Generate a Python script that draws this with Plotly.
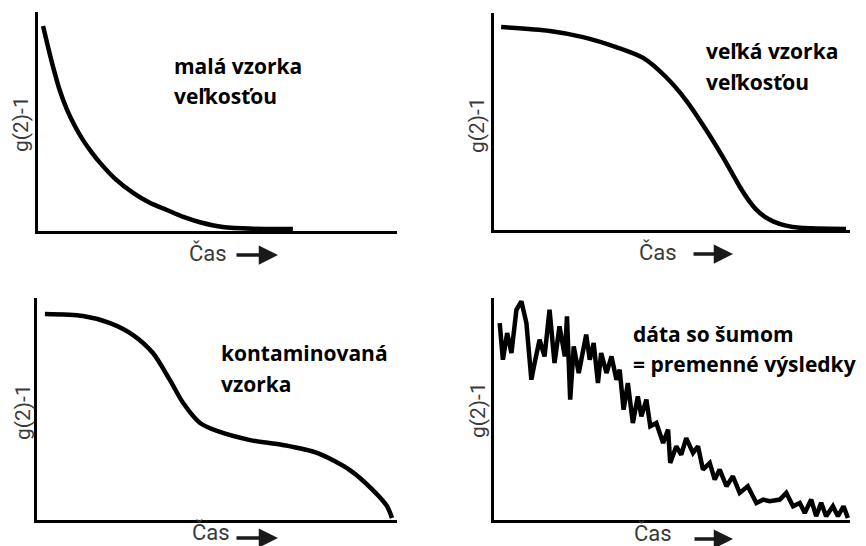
import plotly.graph_objects as go

# ---- data (normalised time, g(2)-1) ----
small_t = [0.014, 0.028, 0.042, 0.060, 0.081, 0.103, 0.125, 0.150, 0.173, 0.215, 0.265, 0.310, 0.359, 0.405, 0.451, 0.515, 0.60, 0.710]
small_g = [0.936, 0.840, 0.749, 0.645, 0.553, 0.478, 0.416, 0.358, 0.311, 0.238, 0.174, 0.130, 0.096, 0.064, 0.040, 0.018, 0.010, 0.009]

large_t = [0.020, 0.157, 0.250, 0.343, 0.419, 0.483, 0.539, 0.596, 0.643, 0.691, 0.714, 0.736, 0.760, 0.784, 0.820, 0.860, 0.989]
large_g = [0.935, 0.917, 0.889, 0.843, 0.793, 0.705, 0.599, 0.461, 0.336, 0.198, 0.140, 0.095, 0.062, 0.040, 0.020, 0.010, 0.005]

cont_t = [0.022, 0.128, 0.203, 0.267, 0.322, 0.369, 0.406, 0.453, 0.500, 0.592, 0.683, 0.778, 0.869, 0.933, 0.972, 0.986]
cont_g = [0.928, 0.919, 0.887, 0.833, 0.752, 0.631, 0.527, 0.437, 0.401, 0.360, 0.338, 0.302, 0.225, 0.135, 0.063, 0.009]

noisy_t = [0.016, 0.025, 0.037, 0.049, 0.063, 0.077, 0.091, 0.105, 0.114, 0.128,
           0.142, 0.156, 0.170, 0.184, 0.199, 0.205, 0.214, 0.224, 0.238, 0.259,
           0.269, 0.280, 0.292, 0.301, 0.316, 0.330, 0.344, 0.353, 0.364, 0.376,
           0.390, 0.404, 0.414, 0.428, 0.439, 0.456, 0.475, 0.489, 0.495, 0.512,
           0.526, 0.540, 0.559, 0.573, 0.587, 0.606, 0.620, 0.634, 0.653, 0.671,
           0.690, 0.713, 0.737, 0.756, 0.774, 0.803, 0.821, 0.840, 0.859, 0.873,
           0.891, 0.905, 0.919, 0.933, 0.952, 0.966, 0.982, 0.994]
noisy_g = [0.887, 0.722, 0.842, 0.752, 0.947, 0.985, 0.887, 0.632, 0.707, 0.812,
           0.737, 0.947, 0.707, 0.872, 0.737, 0.917, 0.542, 0.782, 0.662, 0.835,
           0.722, 0.797, 0.617, 0.752, 0.662, 0.737, 0.632, 0.677, 0.497, 0.617,
           0.437, 0.557, 0.467, 0.542, 0.422, 0.437, 0.347, 0.407, 0.257, 0.332,
           0.294, 0.369, 0.302, 0.332, 0.227, 0.257, 0.182, 0.227, 0.152, 0.197,
           0.122, 0.152, 0.077, 0.092, 0.085, 0.092, 0.122, 0.062, 0.077, 0.032,
           0.092, 0.017, 0.077, 0.017, 0.062, 0.017, 0.062, 0.009]

panel_labels = [["malá vzorka", "veľkosťou"],
                ["veľká vzorka", "veľkosťou"],
                ["kontaminovaná", "vzorka"],
                ["dáta so šumom", "= premenné výsledky"]]
y_label = "g(2)-1"
x_label = "Čas"

W, H = 866, 546
def px(x):
    return x / W
def py(y):
    return 1 - y / H

fig = go.Figure()
series = [(small_t, small_g, "spline"), (large_t, large_g, "spline"),
          (cont_t, cont_g, "spline"), (noisy_t, noisy_g, "linear")]
for i, (t, g, shape) in enumerate(series):
    suffix = "" if i == 0 else str(i + 1)
    line = dict(color="black", width=4.5, shape=shape)
    if shape == "spline":
        line["smoothing"] = 0.8
    fig.add_trace(go.Scatter(x=t, y=g, mode="lines", xaxis="x" + suffix, yaxis="y" + suffix,
                             line=line, showlegend=False, hoverinfo="skip"))

# axis geometry (pixel boxes: left, right, bottom, top)
boxes = [(38, 397, 231, 12), (494, 850, 230, 13), (37, 397, 520, 298), (494, 850, 520, 298)]
layout = dict(width=W, height=H, autosize=False, margin=dict(l=0, r=0, t=0, b=0),
              plot_bgcolor="white", paper_bgcolor="white")
for i, (l, r, b, t) in enumerate(boxes):
    suffix = "" if i == 0 else str(i + 1)
    ax_common = dict(showgrid=False, zeroline=False, showticklabels=False, ticks="",
                     showline=True, linecolor="black", linewidth=3, fixedrange=True)
    layout["xaxis" + suffix] = dict(domain=[px(l), px(r)], range=[0, 1],
                                    anchor="y" + suffix, **ax_common)
    layout["yaxis" + suffix] = dict(domain=[py(b), py(t)], range=[0, 1],
                                    anchor="x" + suffix, **ax_common)
fig.update_layout(**layout)

annos = []
label_font = dict(family="Open Sans", size=21, color="black")
text_pos = [(172, 66, 96), (704, 51, 82), (219, 353, 384), (631, 334, 364)]
for (x0, y1, y2), lines in zip(text_pos, panel_labels):
    for yy, txt in zip((y1, y2), lines):
        annos.append(dict(x=px(x0), y=py(yy), xref="paper", yref="paper", text="<b>" + txt + "</b>",
                          showarrow=False, xanchor="left", yanchor="middle", font=label_font))

grey = "#3a3a3a"
xaxis_font = dict(family="Roboto", size=22, color=grey)
yaxis_font = dict(family="Roboto", size=21, color=grey)
ylab_pos = [(21, 124), (477, 125), (23, 412), (478, 410)]
for x0, y0 in ylab_pos:
    annos.append(dict(x=px(x0), y=py(y0), xref="paper", yref="paper", text=y_label,
                      textangle=-90, showarrow=False, xanchor="center", yanchor="middle",
                      font=yaxis_font))
xlab_pos = [(208, 253, 235, 278), (658, 252, 692, 733), (211, 532, 235, 278), (653, 533, 693, 733)]
arrow_y = [255, 254, 538, 539]
for (xc, y0, a0, a1), ay0 in zip(xlab_pos, arrow_y):
    annos.append(dict(x=px(xc), y=py(y0), xref="paper", yref="paper", text=x_label,
                      showarrow=False, xanchor="center", yanchor="middle", font=xaxis_font))
    annos.append(dict(x=px(a1), y=py(ay0), xref="paper", yref="paper", text="",
                      showarrow=True, ax=-(a1 - a0), ay=0, arrowhead=2, arrowsize=1.1,
                      arrowwidth=3.5, arrowcolor="#1a1a1a"))
fig.update_layout(annotations=annos)

fig.write_html("out.html")
